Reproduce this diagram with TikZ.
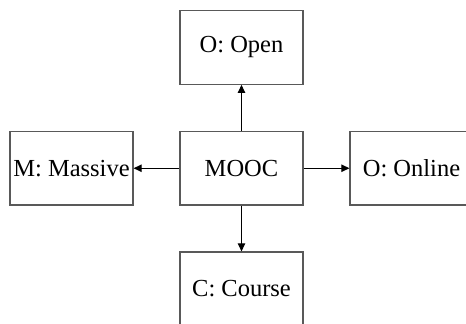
\documentclass[tikz,border=0pt]{standalone}
\usepackage{fontspec}
\setmainfont{Liberation Serif}
\usetikzlibrary{arrows.meta}
\begin{document}
\begin{tikzpicture}[x=1pt,y=1pt,
  boxnode/.style={draw=black!65,line width=1.3pt,minimum width=123pt,minimum height=73.5pt,inner sep=0pt,font=\fontsize{24.5}{28}\selectfont},
  conn/.style={line width=1.1pt,-{Triangle[length=8pt,width=7.5pt]}}]
\useasboundingbox (0,0) rectangle (466,324);
\clip (0,0) rectangle (466,324);
\node[boxnode] (c) at (241.5,155.75) {MOOC};
\node[boxnode] (t) at (241.5,276.5) {O: Open};
\node[boxnode] (l) at (71.5,155.75) {M: Massive};
\node[boxnode] (r) at (411.5,155.75) {O: Online};
\node[boxnode] (b) at (241.5,35.25) {C: Course};
\draw[conn] (c.north) -- (t.south);
\draw[conn] (c.west) -- (l.east);
\draw[conn] (c.east) -- (r.west);
\draw[conn] (c.south) -- (b.north);
\end{tikzpicture}
\end{document}
